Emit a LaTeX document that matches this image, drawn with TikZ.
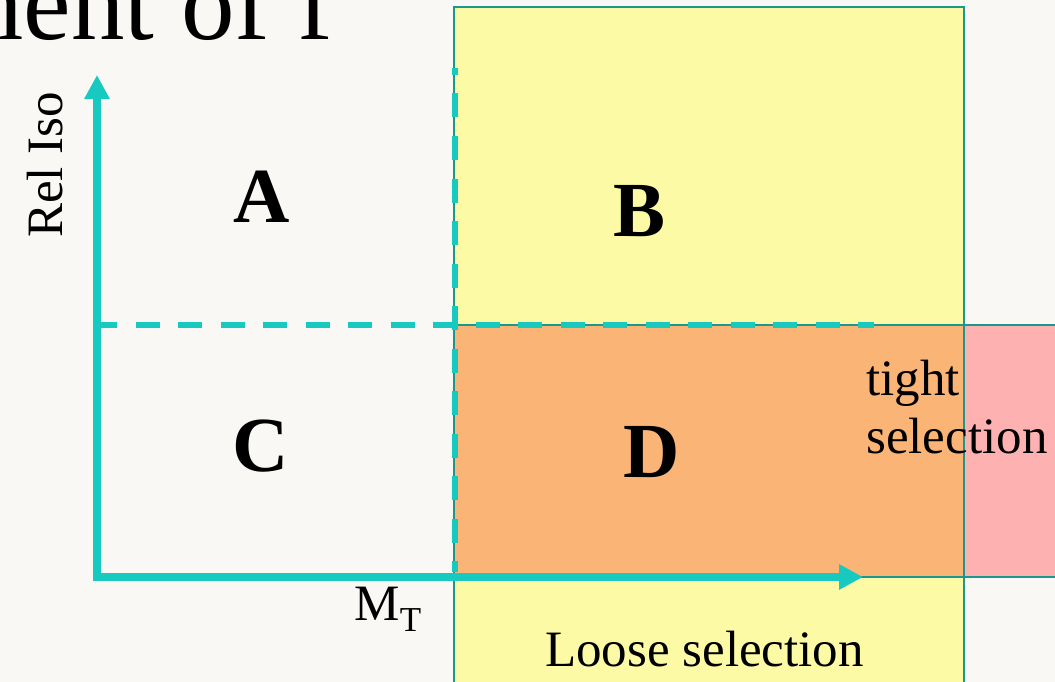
\documentclass[tikz,border=0pt]{standalone}
\usepackage{fontspec}
\setmainfont{Liberation Serif}
\usetikzlibrary{arrows.meta}

\definecolor{paper}{HTML}{FAF8F5}
\definecolor{axiscyan}{HTML}{17C9BF}
\definecolor{edgeteal}{HTML}{1A988E}
\definecolor{looseyellow}{HTML}{FCFAA4}
\definecolor{tightpink}{HTML}{FDB1B1}
\definecolor{bothorange}{HTML}{F9B476}

\begin{document}
\begin{tikzpicture}[x=1pt,y=-1pt]
  \tikzset{
    axis/.style={axiscyan, line width=7.5pt, {Triangle[length=24pt,width=24pt]}-{Triangle[length=24pt,width=24pt]}},
    cutline/.style={axiscyan, line width=6.5pt, dash pattern=on 24pt off 18.5pt},
    band/.style={edgeteal, line width=2pt},
    region/.style={font=\fontsize{78}{78}\selectfont\bfseries, inner sep=0pt},
    label/.style={font=\fontsize{51}{58}\selectfont, inner sep=0pt}
  }
  \fill[paper] (0,0) rectangle (1055,682);
  \useasboundingbox (0,0) rectangle (1055,682);
  % loose (vertical) and tight (horizontal) bands
  \fill[looseyellow] (454,7) rectangle (964,690);
  \fill[tightpink] (454,325) rectangle (1060,577);
  \fill[bothorange] (454,325) rectangle (964,577);
  \draw[band] (454,690) |- (964,7) -- (964,690);
  \draw[band] (1060,325) -- (454,325) -- (454,577) -- (1060,577);
  % axes and cuts
  \coordinate (origin) at (97,577);
  \coordinate (ytip) at (97,75);
  \coordinate (xtip) at (863,577);
  \coordinate (mtcut) at (455,577);
  \coordinate (mttop) at (455,68);
  \coordinate (isocut) at (97,325);
  \coordinate (isoend) at (874,325);
  \draw[cutline, dash phase=17pt] (mttop) -- ([yshift=5pt]mtcut);
  \draw[cutline, dash phase=4pt] (isocut) -- (isoend);
  \draw[axis] (ytip) -- (origin) -- (xtip);
  % labels
  \node[anchor=base east, font=\fontsize{107}{107}\selectfont, inner sep=0pt] (title) at (333,40) {ment of f};
  \node[label, rotate=90, anchor=base] (reliso) at (62,165) {Rel Iso};
  \node[label, anchor=base] (mt) at (388,620) {M\raisebox{-11pt}{\fontsize{35}{35}\selectfont T}};
  \node[region] (A) at (262,197) {A};
  \node[region] (B) at (640,211) {B};
  \node[region] (C) at (261,446) {C};
  \node[region] (D) at (652,452) {D};
  \node[label, anchor=base west] (loose) at (545,666) {Loose selection};
  \node[label, anchor=north west, align=left] (tight) at (866,360) {tight\\selection};
\end{tikzpicture}
\end{document}
